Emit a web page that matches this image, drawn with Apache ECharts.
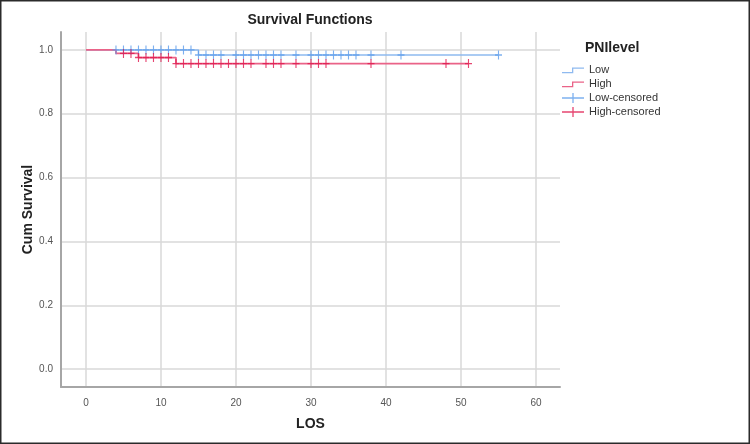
<!DOCTYPE html>
<html>
<head>
<meta charset="utf-8">
<script src="https://cdn.jsdelivr.net/npm/echarts@6/dist/echarts.min.js"></script>
<style>
html,body{margin:0;padding:0;background:#fff;}
#chart{width:750px;height:444px;}
</style>
</head>
<body>
<div id="chart"></div>
<script>
// ---- Data ----
const xTicks = [0, 10, 20, 30, 40, 50, 60];
const yTicks = [0, 0.2, 0.4, 0.6, 0.8, 1.0];

// Kaplan-Meier step points: time of each step and survival after it
const lowStepTimes = [0, 15, 55];
const lowStepSurv = [1.0, 0.984, 0.984];
const highStepTimes = [0, 4, 7, 12, 51];
const highStepSurv = [1.0, 0.989, 0.976, 0.957, 0.957];

// Censored observation times
const lowCensorTimes = [4, 5, 6, 7, 8, 9, 10, 11, 12, 13, 14, 15, 16, 17, 18, 20, 21, 22, 23, 24, 25, 26, 28, 30, 31, 32, 33, 34, 35, 36, 38, 42, 55];
const highCensorTimes = [5, 6, 7, 8, 9, 10, 11, 12, 13, 14, 15, 16, 17, 18, 19, 20, 21, 22, 24, 25, 26, 28, 30, 31, 32, 38, 48, 51];

const seriesNames = ['Low', 'High', 'Low-censored', 'High-censored'];

// survival value of a step function at time t
function survAt(times, surv, t) {
  let s = surv[0];
  for (let i = 0; i < times.length; i++) { if (t >= times[i]) s = surv[i]; }
  return s;
}

const lowLine = lowStepTimes.map((t, i) => [t, lowStepSurv[i]]);
const highLine = highStepTimes.map((t, i) => [t, highStepSurv[i]]);
const lowCens = lowCensorTimes.map(t => [t, survAt(lowStepTimes, lowStepSurv, t)]);
const highCens = highCensorTimes.map(t => [t, survAt(highStepTimes, highStepSurv, t)]);

const BLUE_LINE = '#8fbaf0', BLUE_MARK = '#5d9ceb';
const RED_LINE = '#ea6388', RED_MARK = '#e0164c';

const plusSymbol = 'path://M0,4.2h10v1.6h-10z M4.2,0h1.6v10h-1.6z';
const stepIcon = 'path://M0,0h0.01v0.01h-0.01z M0,9.99h0.01v0.01h-0.01z M0,7 L10,7 L10,2.5 L22,2.5 L22,3.8 L11.3,3.8 L11.3,8.3 L0,8.3 Z';
const plusIcon = 'path://M0,4.35h22v1.3h-22z M10.35,0h1.3v10h-1.3z';

const chart = echarts.init(document.getElementById('chart'), null, {renderer: 'canvas'});
chart.setOption({
  animation: false,
  backgroundColor: '#ffffff',
  textStyle: {fontFamily: 'Liberation Sans, Arial, sans-serif'},
  title: [
    {text: 'Survival Functions', left: 310, top: 13, textAlign: 'center', padding: 0,
     textStyle: {fontSize: 14, fontWeight: 'bold', color: '#222'}},
    {text: 'PNIlevel', left: 585, top: 41, padding: 0,
     textStyle: {fontSize: 14, fontWeight: 'bold', color: '#222'}}
  ],
  legend: {
    orient: 'vertical', left: 562, top: 64.5, padding: 0,
    itemWidth: 22, itemHeight: 10, itemGap: 3,
    textStyle: {fontSize: 11, color: '#333'},
    data: [
      {name: 'Low', icon: stepIcon},
      {name: 'High', icon: stepIcon},
      {name: 'Low-censored', icon: plusIcon},
      {name: 'High-censored', icon: plusIcon}
    ]
  },
  grid: {left: 61, right: 190, top: 32, bottom: 57},
  xAxis: {
    type: 'value', min: -3.33, max: 63.2,
    name: 'LOS', nameLocation: 'middle', nameGap: 30, nameMoveOverlap: false,
    nameTextStyle: {fontSize: 14, fontWeight: 'bold', color: '#222'},
    axisLine: {show: true, onZero: false, lineStyle: {color: '#a6a6a6', width: 2}},
    axisTick: {show: false, customValues: xTicks},
    axisLabel: {customValues: xTicks, color: '#555', fontSize: 10, margin: 11},
    splitLine: {show: true, lineStyle: {color: '#d9d9d9', width: 1.5}}
  },
  yAxis: {
    type: 'value', min: -0.056, max: 1.056,
    name: 'Cum Survival', nameLocation: 'middle', nameGap: 26, nameMoveOverlap: false,
    nameTextStyle: {fontSize: 14, fontWeight: 'bold', color: '#222'},
    axisLine: {show: true, onZero: false, lineStyle: {color: '#a6a6a6', width: 2}},
    axisTick: {show: false, customValues: yTicks},
    axisLabel: {customValues: yTicks, color: '#555', fontSize: 10, margin: 8,
                formatter: v => v.toFixed(1)},
    splitLine: {show: true, lineStyle: {color: '#d9d9d9', width: 1.5}}
  },
  series: [
    {name: seriesNames[0], type: 'line', step: 'end', data: lowLine, symbol: 'none',
     color: BLUE_LINE, lineStyle: {color: BLUE_LINE, width: 1.5}, z: 3},
    {name: seriesNames[1], type: 'line', step: 'end', data: highLine, symbol: 'none',
     color: RED_LINE, lineStyle: {color: RED_LINE, width: 1.8}, z: 3},
    {name: seriesNames[2], type: 'scatter', data: lowCens, symbol: plusSymbol,
     symbolSize: [7, 9], color: BLUE_MARK, itemStyle: {color: BLUE_MARK}, z: 4},
    {name: seriesNames[3], type: 'scatter', data: highCens, symbol: plusSymbol,
     symbolSize: [7, 9], color: RED_MARK, itemStyle: {color: RED_MARK}, z: 4}
  ],
  graphic: [
    {type: 'rect', silent: true, z: 100,
     shape: {x: 0.75, y: 0.75, width: 748.5, height: 442.5},
     style: {fill: 'none', stroke: '#2b2b2b', lineWidth: 1.5}}
  ]
});
</script>
</body>
</html>
